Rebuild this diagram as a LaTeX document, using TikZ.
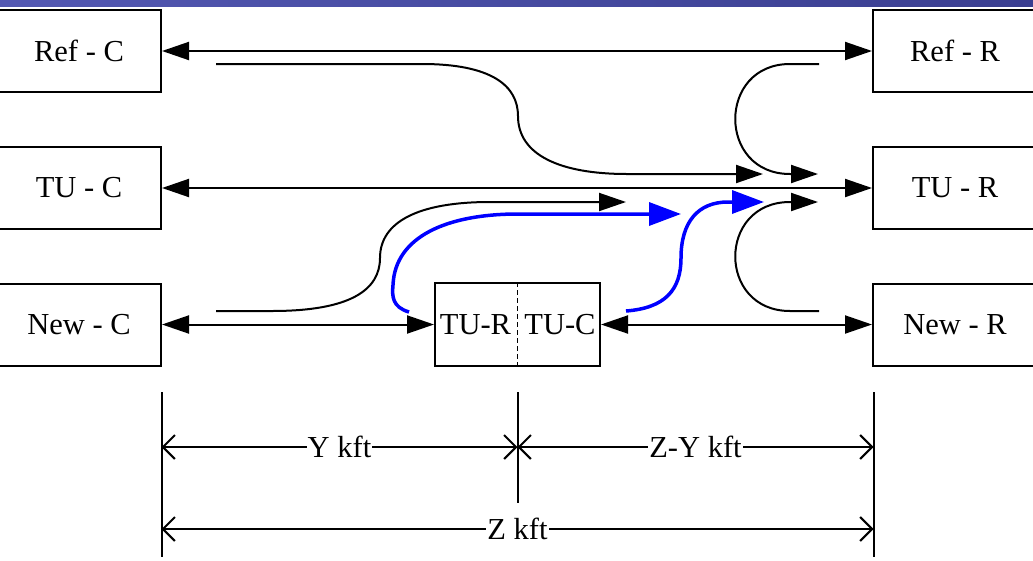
\documentclass[tikz,border=0pt]{standalone}
\usepackage{fontspec}
\setmainfont{Liberation Serif}
\usetikzlibrary{arrows.meta}
\definecolor{hdrL}{HTML}{5358B2}
\definecolor{hdrR}{HTML}{3A3E90}
\definecolor{flow}{HTML}{0000FF}
\begin{document}
\begin{tikzpicture}[x=1pt,y=-1pt,
  every node/.style={font=\fontsize{30.5}{36}\selectfont},
  box/.style={draw, line width=2pt, minimum width=164pt, minimum height=82pt, inner sep=0pt},
  lbl/.style={inner sep=0pt},
  link/.style={line width=2pt, {Triangle[length=27pt,width=18pt]}-{Triangle[length=27pt,width=18pt]}},
  path1/.style={line width=2pt, -{Triangle[length=27pt,width=18pt]}},
  bluepath/.style={line width=3.5pt, draw=flow, -{Triangle[length=32pt,width=23pt]}, fill=none},
  dim/.style={line width=2pt, {Straight Barb[length=12pt,width=24pt]}-{Straight Barb[length=12pt,width=24pt]}},
  dimlbl/.style={fill=white, inner sep=1pt},
  ext/.style={line width=2pt}]
\useasboundingbox (0,0) rectangle (1033,560);
\shade[left color=hdrL, right color=hdrR] (0,0) rectangle (1033,6);

% boxes
\node[box] (refc) at (79,51) {Ref - C};
\node[box] (refr) at (955,51) {Ref - R};
\node[box] (tuc) at (79,188) {TU - C};
\node[box] (tur) at (955,188) {TU - R};
\node[box] (newc) at (79,324.5) {New - C};
\node[box] (newr) at (955,324.5) {New - R};
\node[draw, line width=2pt, minimum width=165pt, minimum height=83pt, inner sep=0pt] (tubox) at (517.5,324.5) {};
\node[lbl] (tuR) at (475.5,324.5) {TU-R};
\node[lbl] (tuC) at (560,324.5) {TU-C};
\draw[line width=1.8pt, dash pattern=on 5pt off 3pt] (tubox.north) -- (tubox.south);

% straight links
\draw[link] (refc.east) -- (refr.west);
\draw[link] (tuc.east) -- (tur.west);
\draw[link] (newc.east) -- (tubox.west);
\draw[link] (tubox.east) -- (newr.west);

% curved paths (black)
\coordinate (rcs) at (216,64);
\coordinate (rce) at (763,174);
\draw[path1] (rcs) -- (422,64) .. controls (492,64) and (518,86) .. (518,116)
  .. controls (518,155) and (560,174) .. (627,174) -- (rce);
\coordinate (rrs) at (819,64);
\coordinate (rre) at (818,174);
\draw[path1] (rrs) -- (790,64) .. controls (717,64) and (717,174) .. (790,174) -- (rre);
\coordinate (nrs) at (819,311);
\coordinate (nre) at (818,202);
\draw[path1] (nrs) -- (790,311) .. controls (717,311) and (717,202) .. (790,202) -- (nre);
\coordinate (ncs) at (216,311);
\coordinate (nce) at (626,202);
\draw[path1] (ncs) -- (272,311) .. controls (350,311) and (380,290) .. (380,258)
  .. controls (380,222) and (418,202) .. (490,202) -- (nce);

% blue paths
\coordinate (b1s) at (409,312);
\coordinate (b1e) at (681,214);
\draw[bluepath] (b1s) .. controls (392,307) and (392,296) .. (393,285)
  .. controls (395,236) and (448,214) .. (518,214) -- (b1e);
\coordinate (b2s) at (626,311);
\coordinate (b2e) at (764,202);
\draw[bluepath] (b2s) .. controls (665,308) and (681,290) .. (681,258)
  .. controls (681,222) and (698,202) .. (728,202) -- (b2e);

% dimension lines
\coordinate (v1t) at (161.5,392);
\coordinate (v1b) at (161.5,557);
\coordinate (v2t) at (517.5,392);
\coordinate (v2b) at (517.5,503);
\coordinate (v3t) at (873.5,392);
\coordinate (v3b) at (873.5,557);
\draw[ext] (v1t) -- (v1b);
\draw[ext] (v2t) -- (v2b);
\draw[ext] (v3t) -- (v3b);
\coordinate (y1) at (161.5,447);
\coordinate (y2) at (517.5,447);
\coordinate (y3) at (873.5,447);
\coordinate (z1) at (161.5,529);
\coordinate (z2) at (873.5,529);
\draw[dim] (y1) -- node[dimlbl] (ylab) {Y kft} (y2);
\draw[dim] (y2) -- node[dimlbl] (zylab) {Z-Y kft} (y3);
\draw[dim] (z1) -- node[dimlbl] (zlab) {Z kft} (z2);
\end{tikzpicture}
\end{document}
